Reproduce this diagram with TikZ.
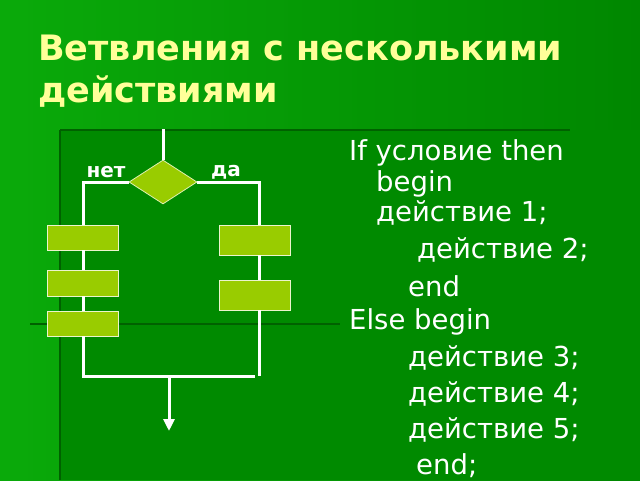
\documentclass[tikz,border=0pt]{standalone}
\usepackage{fontspec}
\setmainfont{DejaVu Sans}
\usetikzlibrary{shapes.geometric,arrows.meta}
\definecolor{bgA}{RGB}{10,170,10}
\definecolor{bgB}{RGB}{0,135,0}
\definecolor{inner}{RGB}{0,138,0}
\definecolor{boxc}{RGB}{153,204,0}
\definecolor{titlec}{RGB}{255,255,153}
\begin{document}
\begin{tikzpicture}[x=1pt,y=-1pt,
  box/.style={draw=white!80!boxc,fill=boxc,line width=0.8pt,minimum width=71pt,inner sep=0pt},
  ln/.style={white,line width=3pt},
  lab/.style={white,font=\bfseries\fontsize{20}{20}\selectfont},
  code/.style={white,anchor=west,inner sep=0pt,font=\fontsize{27.5}{27.5}\selectfont}]
\useasboundingbox (0,0) rectangle (640,480);
\shade[left color=bgA,right color=bgB] (0,0) rectangle (640,480);
\fill[inner] (60,130) rectangle (640,480);
\draw[black!30!inner,line width=2pt] (60,130) -- (60,480);
\draw[black!30!inner,line width=2pt] (30,324) -- (340,324);
\draw[black!30!inner,line width=2pt] (60,130) -- (570,130);
\node[anchor=west,text=titlec,font=\bfseries\fontsize{35}{42}\selectfont,align=left,inner sep=0pt] (title) at (38,71) {Ветвления с несколькими\\действиями};
% flowchart
\coordinate (top) at (163,129);
\node[diamond,fill=boxc,draw=white!70!boxc,line width=0.8pt,minimum width=68pt,minimum height=44pt,inner sep=0pt] (d) at (163,182) {};
\coordinate (lc) at (83,182);
\coordinate (rc) at (259,182);
\node[box,minimum height=25pt] (l1) at (83,237.5) {};
\node[box,minimum height=26pt] (l2) at (83,283) {};
\node[box,minimum height=25pt] (l3) at (83,323.5) {};
\node[box,minimum height=30pt] (r1) at (254.5,240) {};
\node[box,minimum height=30pt] (r2) at (254.5,295) {};
\coordinate (lb) at (83,376);
\coordinate (rb) at (259,376);
\coordinate (mb) at (169,376);
\coordinate (out) at (169,431);
\draw[ln] (top) -- (d.north);
\draw[ln] (d.west) -- (lc) -- (l1.north -| lc);
\draw[ln] (l1.south -| lc) -- (l2.north -| lc);
\draw[ln] (l2.south -| lc) -- (l3.north -| lc);
\draw[ln] (l3.south -| lc) -- (lb) -- (255,376);
\draw[ln] (d.east) -- (rc) -- (r1.north -| rc);
\draw[ln] (r1.south -| rc) -- (r2.north -| rc);
\draw[ln] (r2.south -| rc) -- (rb);
\draw[ln,-{Triangle[length=12pt,width=11pt]}] (mb) -- (out);
\node[lab] (net) at (106,172) {нет};
\node[lab] (da) at (226,172) {да};
% code
\node[code] (c1) at (349,153) {If условие then};
\node[code] (c2) at (376,184) {begin};
\node[code] (c3) at (376,213) {действие 1;};
\node[code] (c4) at (417,250) {действие 2;};
\node[code] (c5) at (408,286) {end};
\node[code] (c6) at (349,322) {Else begin};
\node[code] (c7) at (408,358) {действие 3;};
\node[code] (c8) at (408,394) {действие 4;};
\node[code] (c9) at (408,430) {действие 5;};
\node[code] (c10) at (416,466) {end;};
\end{tikzpicture}
\end{document}
